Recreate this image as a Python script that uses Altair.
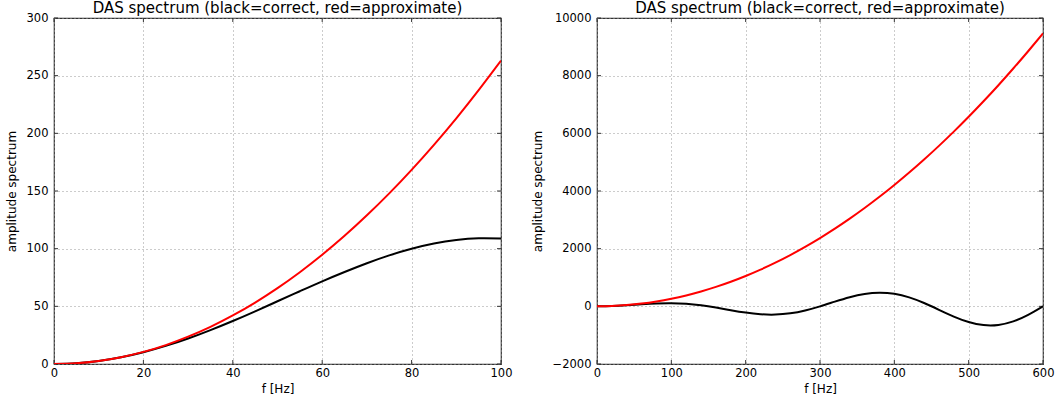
import altair as alt
import pandas as pd

# ---- data ----
left_f = [0, 5, 10, 15, 20, 25, 30, 35, 40, 45, 50, 55, 60, 65, 70, 75, 80, 85, 90, 95, 100]
left_correct = [0, 0.66, 2.61, 5.82, 10.2, 15.7, 22.1, 29.4, 37.3, 45.7, 54.4, 63.1, 71.7, 79.8,
                87.4, 94.2, 99.9, 104.4, 107.5, 109.0, 108.8]
left_approx = [0, 0.66, 2.63, 5.92, 10.5, 16.4, 23.7, 32.2, 42.1, 53.3, 65.8, 79.6, 94.7, 111.1,
               128.9, 147.9, 168.3, 190.0, 213.0, 237.4, 263.0]

right_f = [0, 20, 40, 60, 80, 100, 120, 140, 160, 180, 200, 220, 240, 260, 280, 300,
           320, 340, 360, 380, 400, 420, 440, 460, 480, 500, 520, 540, 560, 580, 600]
right_correct = [0, 10.2, 37.3, 71.7, 99.9, 108.7, 88.6, 36.6, -41.8, -132.9, -217.5, -274.7,
                 -286.6, -242.6, -143.0, 0, 163.4, 317.3, 429.9, 474.6, 435.0, 310.0, 114.9,
                 -120.1, -354.3, -543.7, -649.4, -644.9, -522.6, -296.2, 0]
right_approx = [0, 10.5, 42.1, 94.7, 168.3, 263, 378.7, 515.5, 673.3, 852.1, 1052, 1272.9,
                1514.9, 1777.9, 2061.9, 2367, 2693.1, 3040.3, 3408.5, 3797.7, 4208, 4639.3,
                5091.7, 5565.1, 6059.5, 6575, 7111.5, 7669.1, 8247.7, 8847.3, 9468]

left_xticks = [0, 20, 40, 60, 80, 100]
left_yticks = [0, 50, 100, 150, 200, 250, 300]
right_xticks = [0, 100, 200, 300, 400, 500, 600]
right_yticks = [-2000, 0, 2000, 4000, 6000, 8000, 10000]

title_text = "DAS spectrum (black=correct, red=approximate)"
x_title = "f [Hz]"
y_title = "amplitude spectrum"

FONT = "DejaVu Sans"
W1, W2, H = 447, 446, 346
TICK = 4


def panel(f, correct, approx, xdom, ydom, xticks, yticks, w, h):
    df = pd.DataFrame({"f": f, "correct": correct, "approx": approx})
    xs = alt.Scale(domain=xdom, nice=False, zero=False)
    ys = alt.Scale(domain=ydom, nice=False, zero=False)
    xax = alt.Axis(title=x_title, values=xticks, grid=True, ticks=False, domain=False,
                   labelPadding=3, titlePadding=5, labelFlush=False, labelOverlap=False,
                   format="d")
    yax = alt.Axis(title=y_title, values=yticks, grid=True, ticks=False, domain=False,
                   labelPadding=6, titlePadding=8, labelFlush=False, labelOverlap=False,
                   format="d")
    base = alt.Chart(df)
    black = base.mark_line(color="black", strokeWidth=2, interpolate="natural", clip=True).encode(
        x=alt.X("f:Q", scale=xs, axis=xax),
        y=alt.Y("correct:Q", scale=ys, axis=yax),
    )
    red = base.mark_line(color="#ff0000", strokeWidth=2, interpolate="natural", clip=True).encode(
        x=alt.X("f:Q", scale=xs, axis=xax),
        y=alt.Y("approx:Q", scale=ys, axis=yax),
    )
    xt = pd.DataFrame({"f": xticks})
    yt = pd.DataFrame({"correct": yticks})
    tb = alt.Chart(xt).mark_rule(color="#333333", strokeWidth=1).encode(
        x=alt.X("f:Q", scale=xs, axis=xax), y=alt.value(h), y2=alt.value(h - TICK))
    tt = alt.Chart(xt).mark_rule(color="#333333", strokeWidth=1).encode(
        x=alt.X("f:Q", scale=xs, axis=xax), y=alt.value(0), y2=alt.value(TICK))
    tl = alt.Chart(yt).mark_rule(color="#333333", strokeWidth=1).encode(
        y=alt.Y("correct:Q", scale=ys, axis=yax), x=alt.value(0), x2=alt.value(TICK))
    tr = alt.Chart(yt).mark_rule(color="#333333", strokeWidth=1).encode(
        y=alt.Y("correct:Q", scale=ys, axis=yax), x=alt.value(w - TICK), x2=alt.value(w))
    return alt.layer(tb, tt, tl, tr, black, red).properties(
        width=w, height=h,
        title=alt.TitleParams(title_text, fontSize=15, font=FONT, fontWeight="normal",
                              anchor="middle", offset=-4, color="black"),
    )


left = panel(left_f, left_correct, left_approx, [0, 100], [0, 300], left_xticks, left_yticks, W1, H)
right = panel(right_f, right_correct, right_approx, [0, 600], [-2000, 10000], right_xticks,
              right_yticks, W2, H)

chart = alt.hconcat(left, right, spacing=96, bounds="flush").properties(
    padding={"left": 4, "top": 0, "right": 0, "bottom": 0},
    background="white",
).configure_view(
    stroke="#333333", strokeWidth=1.2, fill="white"
).configure_axis(
    labelFont=FONT, titleFont=FONT, labelFontSize=11.5, titleFontSize=12,
    labelColor="black", titleColor="black", titleFontWeight="normal",
    gridColor="#999999", gridDash=[1, 3], gridWidth=1, gridOpacity=1,
)

chart.save("out.html", embed_options={"renderer": "svg", "actions": False})
